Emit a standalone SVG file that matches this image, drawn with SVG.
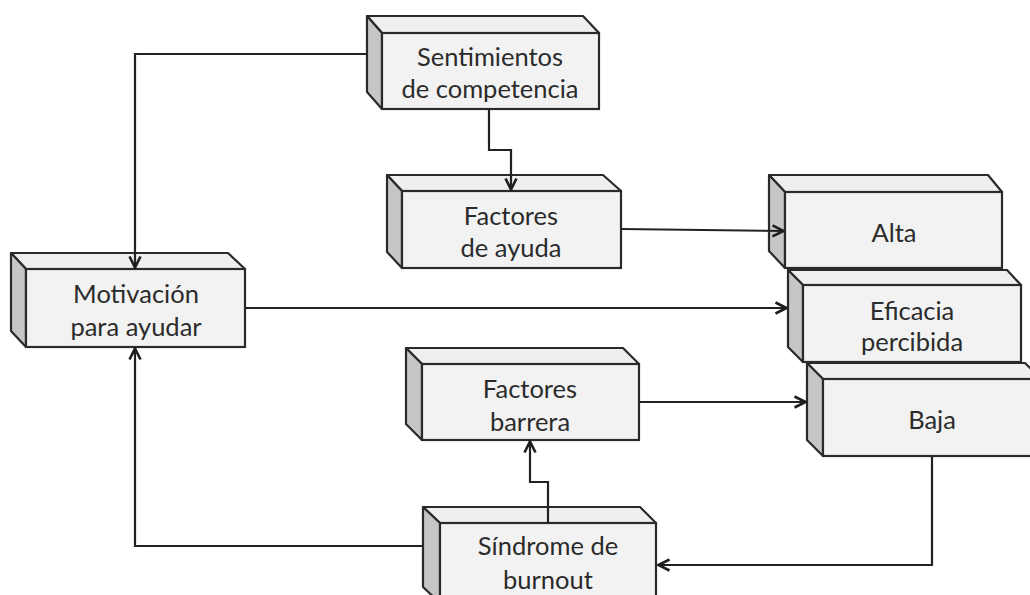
<svg xmlns="http://www.w3.org/2000/svg" width="1030" height="595" viewBox="0 0 1030 595">
  <defs>
    <marker id="arrow" viewBox="0 0 14 14" refX="13" refY="7" markerWidth="14" markerHeight="14" markerUnits="userSpaceOnUse" orient="auto">
      <path d="M1.5,1.5 L12.5,7 L1.5,12.5" fill="none" stroke="#1e1e1e" stroke-width="2.6" stroke-linejoin="miter"/>
    </marker>
  </defs>
  <style>
    .front { fill: #f2f2f2; stroke: #2a2a2a; stroke-width: 2.2; }
    .top { fill: #efefef; stroke: #2a2a2a; stroke-width: 2.2; stroke-linejoin: round; }
    .side { fill: #c6c6c6; stroke: #2a2a2a; stroke-width: 2.2; stroke-linejoin: round; }
    .label { font-family: "Lato", "Liberation Sans", sans-serif; font-size: 25.5px; fill: #2b2b2b; text-anchor: middle; }
    .conn { fill: none; stroke: #222222; stroke-width: 2.2; }
  </style>
  <rect width="1030" height="595" fill="#ffffff"/>

  <!-- nodes: each block is a front face with a top and a left bevel -->
  <g id="sentimientos" transform="translate(382,33)">
    <polygon class="top" points="-15,-17 201,-17 217,0 0,0"/>
    <polygon class="side" points="-15,-17 0,0 0,76 -15,59"/>
    <rect class="front" x="0" y="0" width="217" height="76"/>
    <text class="label" x="108" y="33">Sentimientos</text>
    <text class="label" x="108" y="65">de competencia</text>
  </g>

  <g id="factores-ayuda" transform="translate(402,191)">
    <polygon class="top" points="-15,-16 201,-16 219,0 0,0"/>
    <polygon class="side" points="-15,-16 0,0 0,77 -15,61"/>
    <rect class="front" x="0" y="0" width="219" height="77"/>
    <text class="label" x="109" y="34">Factores</text>
    <text class="label" x="109" y="66">de ayuda</text>
  </g>

  <g id="motivacion" transform="translate(26,269)">
    <polygon class="top" points="-15,-16 202,-16 219,0 0,0"/>
    <polygon class="side" points="-15,-16 0,0 0,78 -15,62"/>
    <rect class="front" x="0" y="0" width="219" height="78"/>
    <text class="label" x="110" y="34">Motivación</text>
    <text class="label" x="110" y="67">para ayudar</text>
  </g>

  <g id="alta" transform="translate(785,192)">
    <polygon class="top" points="-16,-17 203,-17 217,0 0,0"/>
    <polygon class="side" points="-16,-17 0,0 0,76 -16,59"/>
    <rect class="front" x="0" y="0" width="217" height="76"/>
    <text class="label" x="109" y="50">Alta</text>
  </g>

  <g id="eficacia" transform="translate(803,285)">
    <polygon class="top" points="-15,-15 204,-15 218,0 0,0"/>
    <polygon class="side" points="-15,-15 0,0 0,77 -15,62"/>
    <rect class="front" x="0" y="0" width="218" height="77"/>
    <text class="label" x="109" y="35">Eficacia</text>
    <text class="label" x="109" y="66">percibida</text>
  </g>

  <g id="baja" transform="translate(823,379)">
    <polygon class="top" points="-16,-16 202,-16 218,0 0,0"/>
    <polygon class="side" points="-16,-16 0,0 0,77 -16,61"/>
    <rect class="front" x="0" y="0" width="218" height="77"/>
    <text class="label" x="109" y="50">Baja</text>
  </g>

  <g id="factores-barrera" transform="translate(422,364)">
    <polygon class="top" points="-16,-16 201,-16 217,0 0,0"/>
    <polygon class="side" points="-16,-16 0,0 0,76 -16,60"/>
    <rect class="front" x="0" y="0" width="217" height="76"/>
    <text class="label" x="108" y="34">Factores</text>
    <text class="label" x="108" y="67">barrera</text>
  </g>

  <g id="sindrome" transform="translate(440,523)">
    <polygon class="top" points="-17,-16 200,-16 216,0 0,0"/>
    <polygon class="side" points="-17,-16 0,0 0,80 -17,64"/>
    <rect class="front" x="0" y="0" width="216" height="80"/>
    <text class="label" x="108" y="32">Síndrome de</text>
    <text class="label" x="108" y="66">burnout</text>
  </g>

  <!-- connectors -->
  <g id="connectors">
    <polyline class="conn" points="367,54 135,54 135,268" marker-end="url(#arrow)"/>
    <polyline class="conn" points="489,109 489,150 511,150 511,190" marker-end="url(#arrow)"/>
    <polyline class="conn" points="621,229 784,231" marker-end="url(#arrow)"/>
    <polyline class="conn" points="245,308 787,308" marker-end="url(#arrow)"/>
    <polyline class="conn" points="639,402 806,402" marker-end="url(#arrow)"/>
    <polyline class="conn" points="932,456 932,565 658,565" marker-end="url(#arrow)"/>
    <polyline class="conn" points="548,523 548,482 530,482 530,441" marker-end="url(#arrow)"/>
    <polyline class="conn" points="423,546 135,546 135,348" marker-end="url(#arrow)"/>
  </g>
</svg>
